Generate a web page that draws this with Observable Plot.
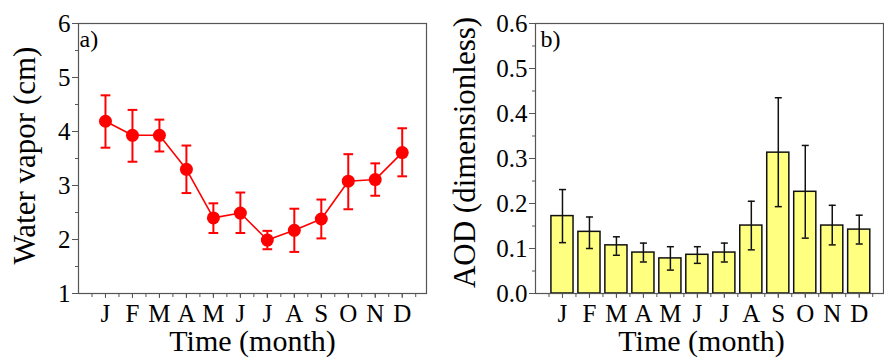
<!DOCTYPE html>
<html>
<head>
<meta charset="utf-8">
<script src="https://cdn.jsdelivr.net/npm/d3@7"></script>
<script src="https://cdn.jsdelivr.net/npm/@observablehq/plot@0.6"></script>
<style>
  html, body { margin: 0; padding: 0; background: white; }
  #wrap { display: flex; width: 884px; height: 358px; }
  svg { display: block; }
  svg, svg text { font-family: "Liberation Serif", "Times New Roman", serif !important; }
</style>
</head>
<body>
<div id="wrap"></div>
<script>
// ---- data ----
const months = ["J","F","M","A","M","J","J","A","S","O","N","D"];
const vapor = [4.19, 3.93, 3.93, 3.30, 2.40, 2.49, 1.99, 2.17, 2.38, 3.08, 3.11, 3.61];
const vaporHi = [4.67, 4.40, 4.22, 3.74, 2.67, 2.87, 2.16, 2.57, 2.74, 3.58, 3.41, 4.06];
const vaporLo = [3.70, 3.44, 3.63, 2.86, 2.12, 2.12, 1.82, 1.77, 2.02, 2.56, 2.81, 3.17];
const aod = [0.172, 0.137, 0.107, 0.091, 0.078, 0.086, 0.091, 0.151, 0.313, 0.226, 0.151, 0.142];
const aodHi = [0.231, 0.170, 0.126, 0.112, 0.104, 0.104, 0.112, 0.205, 0.435, 0.329, 0.196, 0.174];
const aodLo = [0.113, 0.100, 0.085, 0.070, 0.052, 0.067, 0.070, 0.097, 0.193, 0.123, 0.108, 0.110];
const vaporTicks = [1, 2, 3, 4, 5, 6];
const aodTicks = [0, 0.1, 0.2, 0.3, 0.4, 0.5, 0.6];

// ---- derived tables ----
const monthPos = months.map((_, i) => i + 1);
const halfPos = d3.range(0.5, 13, 0.5);
const tableA = months.map((m, i) => ({m: i + 1, v: vapor[i], hi: vaporHi[i], lo: vaporLo[i]}));
const tableB = months.map((m, i) => ({m: i + 1, v: aod[i], hi: aodHi[i], lo: aodLo[i]}));

const FONT = "Liberation Serif";
const AX = "#555";

function panel({width, marginLeft, marginRight, yDomain, yTicks, yMinor, yFormat, yLabel, tag, tagDx, ylabDx, ylabDy, xlabDx, marks}) {
  return Plot.plot({
    width, height: 358,
    marginLeft, marginRight, marginTop: 23, marginBottom: 65,
    style: {fontFamily: FONT, color: "black", background: "white", overflow: "visible"},
    x: {domain: [0, 12.9], label: null, axis: null},
    y: {domain: yDomain, label: null, axis: null},
    marks: [
      ...marks,
      Plot.frame({stroke: AX, strokeWidth: 1.2}),
      Plot.axisX(halfPos, {tickSize: 4, tickFormat: () => "", stroke: AX, label: null}),
      Plot.axisX(monthPos, {tickSize: 5, tickPadding: 6, tickFormat: d => months[d - 1], fontSize: 25, fontFamily: FONT, stroke: AX, fill: "black", label: null}),
      Plot.axisY(yMinor, {tickSize: 3, tickFormat: () => "", stroke: AX, label: null}),
      Plot.axisY(yTicks, {tickSize: 6, tickPadding: 2, tickFormat: yFormat, fontSize: 25, fontFamily: FONT, stroke: AX, fill: "black", label: null}),
      Plot.text([yLabel], {frameAnchor: "left", rotate: -90, dx: ylabDx, dy: ylabDy, fontSize: 31, fontFamily: FONT, lineAnchor: "middle", textAnchor: "middle", fill: "black"}),
      Plot.text(["Time (month)"], {frameAnchor: "bottom", dx: xlabDx, dy: 48, fontSize: 30, fontFamily: FONT, lineAnchor: "middle", textAnchor: "middle", fill: "black"}),
      Plot.text([tag], {frameAnchor: "top-left", dx: tagDx, dy: 6, fontSize: 24, fontFamily: FONT, lineAnchor: "top", textAnchor: "start", fill: "black"})
    ]
  });
}

const a = panel({
  width: 440, marginLeft: 78, marginRight: 14,
  yDomain: [1, 6], yTicks: vaporTicks, yMinor: d3.range(1.5, 6, 1),
  yFormat: d => String(d), yLabel: "Water vapor (cm)", tag: "a)", tagDx: 1,
  ylabDx: -53, ylabDy: -3, xlabDx: 0,
  marks: [
    Plot.line(tableA, {x: "m", y: "v", stroke: "#ff0000", strokeWidth: 1.6}),
    Plot.ruleX(tableA, {x: "m", y1: "lo", y2: "hi", stroke: "#ff0000", strokeWidth: 2}),
    Plot.link(tableA, {x1: d => d.m - 0.18, x2: d => d.m + 0.18, y1: "hi", y2: "hi", stroke: "#ff0000", strokeWidth: 2}),
    Plot.link(tableA, {x1: d => d.m - 0.18, x2: d => d.m + 0.18, y1: "lo", y2: "lo", stroke: "#ff0000", strokeWidth: 2}),
    Plot.dot(tableA, {x: "m", y: "v", r: 6.5, fill: "#ff0000", stroke: "none"})
  ]
});

const b = panel({
  width: 444, marginLeft: 95, marginRight: 1,
  yDomain: [0, 0.6], yTicks: aodTicks, yMinor: d3.range(0.05, 0.6, 0.1),
  yFormat: d3.format(".1f"), yLabel: "AOD (dimensionless)", tag: "b)", tagDx: 5,
  ylabDx: -70, ylabDy: -6, xlabDx: -8,
  marks: [
    Plot.rect(tableB, {x1: d => d.m - 0.41, x2: d => d.m + 0.41, y1: 0, y2: "v", fill: "#ffff80", stroke: "#111", strokeWidth: 1.5}),
    Plot.ruleX(tableB, {x: "m", y1: "lo", y2: "hi", stroke: "#111", strokeWidth: 1.5}),
    Plot.link(tableB, {x1: d => d.m - 0.13, x2: d => d.m + 0.13, y1: "hi", y2: "hi", stroke: "#111", strokeWidth: 1.5}),
    Plot.link(tableB, {x1: d => d.m - 0.13, x2: d => d.m + 0.13, y1: "lo", y2: "lo", stroke: "#111", strokeWidth: 1.5})
  ]
});

document.getElementById("wrap").append(a, b);
</script>
</body>
</html>
